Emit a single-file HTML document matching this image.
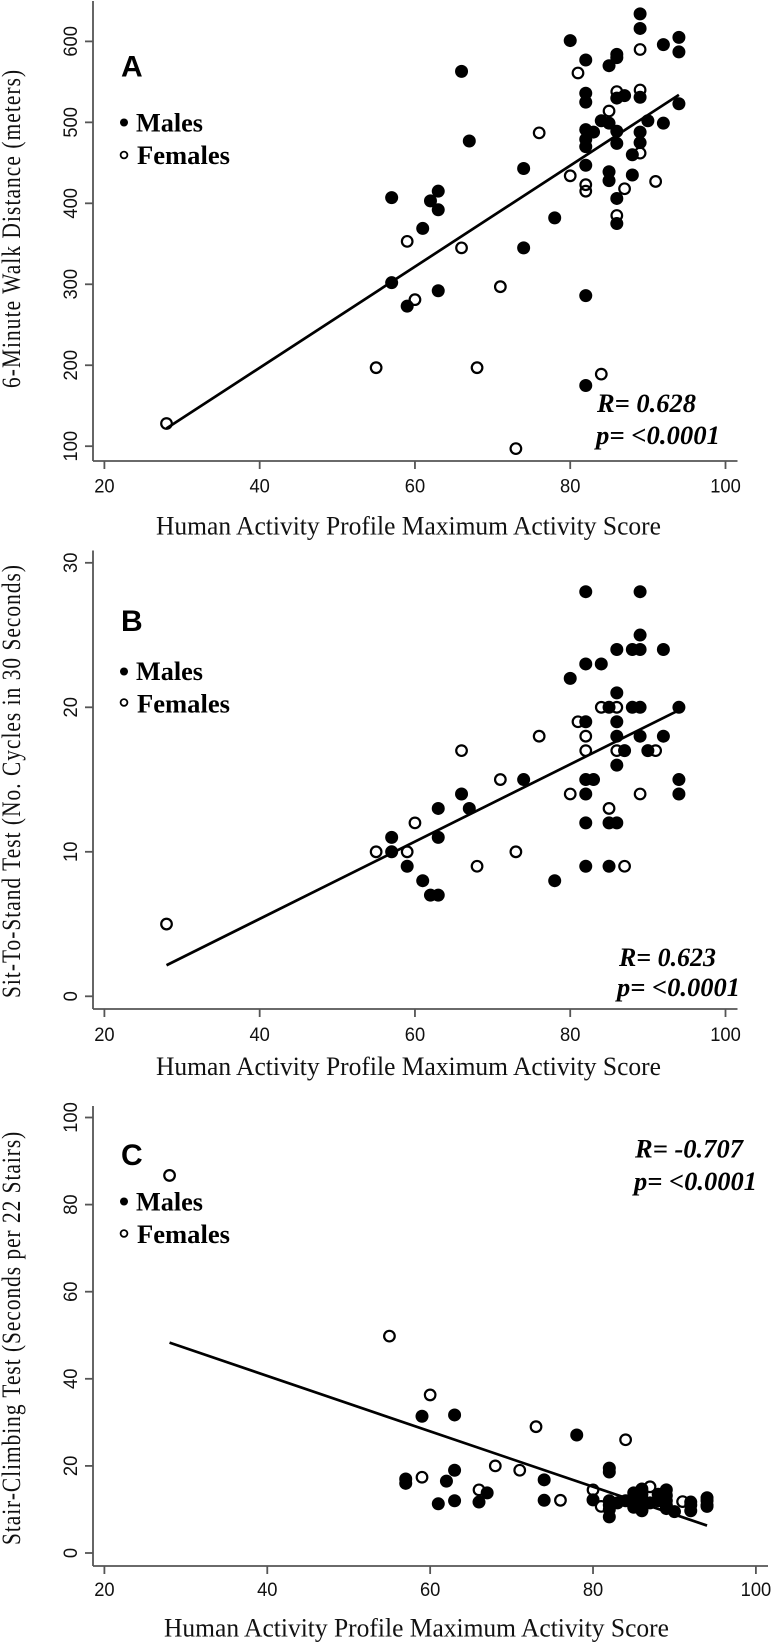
<!DOCTYPE html>
<html lang="en">
<head>
<meta charset="utf-8">
<title>Physical performance vs Human Activity Profile</title>
<style>
html,body{margin:0;padding:0;background:#fff;}
svg{display:block;filter:blur(.3px);}
.ttl{font-family:"Liberation Serif",serif;font-size:26px;fill:#111;}
.xttl{font-family:"Liberation Serif",serif;font-size:26px;fill:#111;}
.tick{font-family:"Liberation Sans",sans-serif;font-size:19.5px;fill:#111;}
.leg{font-family:"Liberation Serif",serif;font-size:26px;font-weight:bold;fill:#000;}
.stat{font-family:"Liberation Serif",serif;font-size:26px;font-weight:bold;font-style:italic;fill:#000;}
.letter{font-family:"Liberation Sans",sans-serif;font-size:30px;font-weight:bold;fill:#000;}
</style>
</head>
<body>
<svg id="fig" xmlns="http://www.w3.org/2000/svg" width="776" height="1643" viewBox="0 0 776 1643">
  <g id="panelA">
    <text class="letter" x="121" y="76.5">A</text>
    <circle cx="124" cy="122.5" r="4" fill="#000"/>
    <text class="leg" x="136" y="131.5" textLength="67" lengthAdjust="spacingAndGlyphs">Males</text>
    <circle cx="124" cy="155" r="3.4" fill="none" stroke="#000" stroke-width="1.8"/>
    <text class="leg" x="137" y="164" textLength="93" lengthAdjust="spacingAndGlyphs">Females</text>
    <text class="stat" x="597" y="412" textLength="99" lengthAdjust="spacingAndGlyphs">R= 0.628</text>
    <text class="stat" x="596" y="444" textLength="124" lengthAdjust="spacingAndGlyphs">p= &lt;0.0001</text>
    <text class="xttl" x="156" y="534.5" textLength="505" lengthAdjust="spacingAndGlyphs">Human Activity Profile Maximum Activity Score</text>
    <text class="ttl" transform="translate(20,388) rotate(-90) scale(.82,1)" textLength="388" lengthAdjust="spacing">6-Minute Walk Distance (meters)</text>
  </g>
  <g id="panelB">
    <text class="letter" x="121" y="631">B</text>
    <circle cx="124" cy="671.5" r="4" fill="#000"/>
    <text class="leg" x="136" y="680" textLength="67" lengthAdjust="spacingAndGlyphs">Males</text>
    <circle cx="124" cy="702.5" r="3.4" fill="none" stroke="#000" stroke-width="1.8"/>
    <text class="leg" x="137" y="712.5" textLength="93" lengthAdjust="spacingAndGlyphs">Females</text>
    <text class="stat" x="619" y="966" textLength="97" lengthAdjust="spacingAndGlyphs">R= 0.623</text>
    <text class="stat" x="617" y="996" textLength="123" lengthAdjust="spacingAndGlyphs">p= &lt;0.0001</text>
    <text class="xttl" x="156" y="1075" textLength="505" lengthAdjust="spacingAndGlyphs">Human Activity Profile Maximum Activity Score</text>
    <text class="ttl" transform="translate(20,998) rotate(-90) scale(.82,1)" textLength="528" lengthAdjust="spacing">Sit-To-Stand Test (No. Cycles in 30 Seconds)</text>
  </g>
  <g id="panelC">
    <text class="letter" x="121" y="1165">C</text>
    <circle cx="124" cy="1201.5" r="4" fill="#000"/>
    <text class="leg" x="136" y="1210.5" textLength="67" lengthAdjust="spacingAndGlyphs">Males</text>
    <circle cx="124" cy="1233.5" r="3.4" fill="none" stroke="#000" stroke-width="1.8"/>
    <text class="leg" x="137" y="1243" textLength="93" lengthAdjust="spacingAndGlyphs">Females</text>
    <text class="stat" x="635" y="1157.7" textLength="108" lengthAdjust="spacingAndGlyphs">R= -0.707</text>
    <text class="stat" x="634" y="1190" textLength="123" lengthAdjust="spacingAndGlyphs">p= &lt;0.0001</text>
    <text class="xttl" x="164" y="1636.5" textLength="505" lengthAdjust="spacingAndGlyphs">Human Activity Profile Maximum Activity Score</text>
    <text class="ttl" transform="translate(20,1545) rotate(-90) scale(.82,1)" textLength="504" lengthAdjust="spacing">Stair-Climbing Test (Seconds per 22 Stairs)</text>
  </g>
</svg>
<script>
// ---- shared axis values ----
const xTicks = [20, 40, 60, 80, 100];
const fitX = [28, 94];

// ---- Panel A: 6-minute walk distance ----
const yTicksA = [100, 200, 300, 400, 500, 600];
const fitA = [122, 534];
const maleXA = [89,89,80,94,94,92,82,86,86,85,66,82,82,86,87,89,94,84,85,90,92,82,83,82,82,86,86,89,89,67,88,74,82,85,85,88,63,57,86,62,63,78,86,61,74,57,63,82,59,82];
const maleYA = [634,616,601,605,587,596,577,584,580,570,563,536,525,530,533,531,523,502,499,502,499,491,488,479,470,489,474,488,475,477,460,443,447,439,428,435,415,407,406,403,392,382,375,369,345,302,292,286,273,175];
const femaleXA = [89,81,86,89,85,76,89,80,91,82,82,87,86,59,66,71,60,55,68,84,28,73];
const femaleYA = [590,561,538,540,514,487,462,434,427,423,415,418,385,353,345,297,281,197,197,189,128,97];

// ---- Panel B: sit-to-stand ----
const yTicksB = [0, 10, 20, 30];
const fitB = [2.15, 19.8];
const maleXB = [82,89,89,86,88,89,92,82,84,80,86,85,88,89,94,82,86,86,89,92,87,90,86,82,83,74,94,66,82,94,63,67,82,85,86,57,63,57,59,82,85,61,78,62,63];
const maleYB = [28,28,25,24,24,24,24,23,23,22,21,20,20,20,20,19,19,18,18,18,17,17,16,15,15,15,15,14,14,14,13,13,12,12,12,11,11,10,9,9,9,8,8,7,7];
const femaleXB = [84,86,81,82,76,66,82,86,91,71,80,89,85,60,55,59,73,68,87,28];
const femaleYB = [20,20,19,18,18,17,17,17,17,15,14,14,13,12,10,10,10,9,9,5];

// ---- Panel C: stair climbing ----
const yTicksC = [0, 20, 40, 60, 80, 100];
const fitC = [48.3, 6.3];
const maleXC = [59,63,78,82,82,63,57,57,74,62,67,61,63,66,74,80,82,82,82,82,83,84,85,85,85,85,85,86,86,86,86,86,86,87,88,88,89,89,89,89,89,90,92,92,92,94,94,94,94];
const maleYC = [31.4,31.7,27.1,19.5,18.6,19,17,16,16.8,16.5,13.8,11.3,12,11.7,12.1,12.2,12,11,10,8.3,11.5,12,13.8,13,12,11,10.5,14.7,13.5,12.5,11,10,9.7,11.5,13.5,12,14.5,13.2,12,11,10.2,9.5,11.7,11,9.7,12.7,12,11,10.7];
const femaleXC = [28,55,60,73,84,68,71,59,66,76,80,81,87,91];
const femaleYC = [86.7,49.8,36.3,29,26,20,19,17.4,14.5,12.1,14.5,10.7,15.2,11.8];

const NS = 'http://www.w3.org/2000/svg';

function linear(d0, d1, r0, r1) {
  return function (v) { return r0 + (v - d0) * (r1 - r0) / (d1 - d0); };
}

function mk(parent, tag, attrs) {
  const el = document.createElementNS(NS, tag);
  for (const k in attrs) el.setAttribute(k, attrs[k]);
  parent.appendChild(el);
  return el;
}

function drawPanel(id, xScale, yScale, box, yTicks, fit, fx, fy, mx, my) {
  const g = document.getElementById(id);
  const axisStyle = { stroke: '#555', 'stroke-width': 1.8, fill: 'none' };

  const xAxis = mk(g, 'line', Object.assign({ x1: box.left, x2: box.right, y1: box.bottom, y2: box.bottom }, axisStyle));
  
  
  const yAxis = mk(g, 'line', Object.assign({ x1: box.left, x2: box.left, y1: box.top, y2: box.bottom }, axisStyle));
  
  

  xTicks.forEach(function (t) {
    const px = xScale(t);
    const tick = mk(g, 'line', Object.assign({ x1: px, x2: px, y1: box.bottom, y2: box.bottom + 8 }, axisStyle));
    
    
    const label = mk(g, 'text', { transform: 'translate(' + px + ',' + box.labelY + ') scale(.94,1)', 'text-anchor': 'middle', class: 'tick' });
    label.textContent = t;
    
    
  });

  yTicks.forEach(function (t) {
    const py = yScale(t);
    const tick = mk(g, 'line', Object.assign({ x1: box.left - 8, x2: box.left, y1: py, y2: py }, axisStyle));
    
    
    const label = mk(g, 'text', { transform: 'translate(77,' + py + ') rotate(-90) scale(.94,1)', 'text-anchor': 'middle', class: 'tick' });
    label.textContent = t;
    
    
  });

  const fitLine = mk(g, 'line', {
    x1: xScale(fitX[0]), y1: yScale(fit[0]),
    x2: xScale(fitX[1]), y2: yScale(fit[1]),
    stroke: '#000', 'stroke-width': 2.7
  });
  
  

  fx.forEach(function (v, i) {
    const c = mk(g, 'circle', { cx: xScale(v), cy: yScale(fy[i]), r: 5.3, fill: 'none', stroke: '#000', 'stroke-width': 2.2 });
    
    
  });
  mx.forEach(function (v, i) {
    const c = mk(g, 'circle', { cx: xScale(v), cy: yScale(my[i]), r: 6.5, fill: '#000' });
    
    
  });
}

drawPanel('panelA',
  linear(20, 100, 104.4, 725.5), linear(100, 600, 446.2, 41.4),
  { left: 93, right: 737.5, top: 1, bottom: 461, labelY: 492.5 },
  yTicksA, fitA, femaleXA, femaleYA, maleXA, maleYA);

drawPanel('panelB',
  linear(20, 100, 104.4, 725.5), linear(0, 30, 996.3, 562.8),
  { left: 93, right: 737.5, top: 550.5, bottom: 1009, labelY: 1041 },
  yTicksB, fitB, femaleXB, femaleYB, maleXB, maleYB);

drawPanel('panelC',
  linear(20, 100, 104.4, 755.9), linear(0, 100, 1553, 1117.5),
  { left: 93, right: 768, top: 1106, bottom: 1566, labelY: 1596 },
  yTicksC, fitC, femaleXC, femaleYC, maleXC, maleYC);
</script>
</body>
</html>
